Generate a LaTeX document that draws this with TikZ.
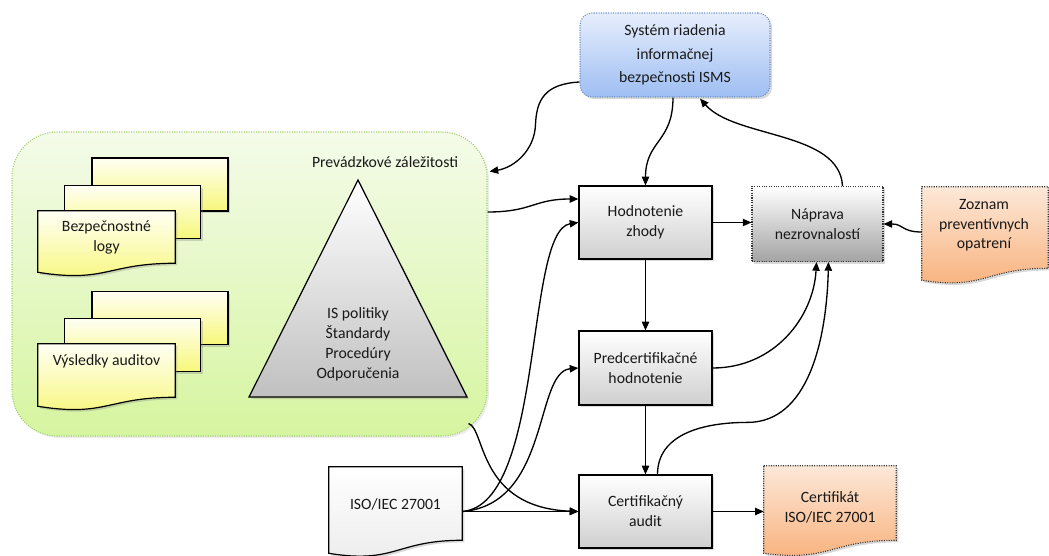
\documentclass[tikz,border=0pt]{standalone}
\usepackage{fontspec}
\setmainfont{Carlito}
\usetikzlibrary{arrows.meta,calc,shadows}

\definecolor{greentop}{HTML}{F4FBE9}
\definecolor{greenbot}{HTML}{D6F5A0}
\definecolor{greenline}{HTML}{9FCF6F}
\definecolor{bluetop}{HTML}{E6EEFC}
\definecolor{bluebot}{HTML}{9EBEF3}
\definecolor{blueline}{HTML}{6F8FC4}
\definecolor{boxgrey}{HTML}{CFCFCF}
\definecolor{fixgrey}{HTML}{A3A3A3}
\definecolor{yellowtop}{HTML}{FFFFF5}
\definecolor{yellowbot}{HTML}{F7F77A}
\definecolor{orangetop}{HTML}{FDE8D8}
\definecolor{orangebot}{HTML}{F8B07A}
\definecolor{pyragrey}{HTML}{C0C0C0}
\definecolor{isogrey}{HTML}{ECECEC}

% wavy-bottom document outline around an (invisible) node
% #1 style, #2 node, #3 dip of the wave, #4 drop of the left end
\newcommand\wavedoc[4][]{%
  \path[#1] (#2.north west) -- (#2.north east) -- (#2.south east)
    .. controls (#2.south) and ($(#2.south)+(0,#3)$) ..
    ($(#2.south west)+(0,#4)$) -- cycle;}

\tikzset{
  every node/.style={font=\fontsize{11.8}{15}\selectfont, align=center, text=black!90},
  softshadow/.style={drop shadow={opacity=0.3, shadow xshift=1.6pt, shadow yshift=-1.6pt}},
  proc/.style={draw=black, line width=0.9pt, top color=white, bottom color=boxgrey,
    minimum width=99.75pt, minimum height=54.75pt, softshadow},
  fixbox/.style={draw=black!80, densely dotted, line width=0.8pt, top color=white,
    bottom color=fixgrey, minimum width=98.25pt, minimum height=56.25pt, softshadow},
  ismsbox/.style={draw=blueline, densely dotted, line width=0.8pt, rounded corners=9pt,
    top color=bluetop, bottom color=bluebot, minimum width=142.5pt, minimum height=63pt,
    softshadow, font=\fontsize{11.8}{17.6}\selectfont},
  group/.style={draw=greenline, densely dotted, line width=0.8pt, rounded corners=34pt,
    top color=greentop, bottom color=greenbot, minimum width=356.25pt, minimum height=228pt,
    drop shadow={opacity=0.15, shadow xshift=1.5pt, shadow yshift=-1.5pt}},
  sheet/.style={draw=black, line width=0.9pt, top color=yellowtop, bottom color=yellowbot,
    minimum width=102pt, minimum height=39.75pt, softshadow},
  docbox/.style={inner sep=0pt, minimum width=102.75pt, minimum height=39pt},
  yellowdoc/.style={draw=black, line width=0.9pt, top color=yellowtop, bottom color=yellowbot, softshadow},
  orangedoc/.style={draw=black!80, densely dotted, line width=0.8pt, top color=orangetop, bottom color=orangebot, softshadow},
  isodoc/.style={draw=black, line width=0.9pt, top color=white, bottom color=isogrey, softshadow},
  pyramid/.style={draw=black, line width=0.9pt, top color=white, bottom color=pyragrey, softshadow},
  conn/.style={draw=black, line width=1pt, -{Triangle[length=6.5pt,width=5.5pt]}}
}

\begin{document}
\begin{tikzpicture}[x=0.75pt,y=-0.75pt]
\useasboundingbox (0,0) rectangle (1049,556);

% operational matters container
\node[group] (ops) at (249.5,284) {};
\node (ops-title) at (385,162) {Prevádzkové záležitosti};

% policy pyramid
\coordinate (tri-top) at (358,180);
\coordinate (tri-l) at (249,397);
\coordinate (tri-r) at (467,397);
\path[pyramid] (tri-top) -- (tri-r) -- (tri-l) -- cycle;
\node (tri-t) at (358,344) {IS politiky\\Štandardy\\Procedúry\\Odporučenia};

% security logs stack
\node[sheet] (log-b) at (160,184.5) {};
\node[sheet] (log-m) at (132.5,212) {};
\node[docbox] (log) at (106.5,237) {};
\wavedoc[yellowdoc]{log}{20}{9}
\node (log-t) at (log) {Bezpečnostné\\logy};

% audit results stack
\node[sheet] (aud-b) at (160,318) {};
\node[sheet] (aud-m) at (132.5,345) {};
\node[docbox, minimum height=39.75pt] (aud) at (106.5,370.5) {};
\wavedoc[yellowdoc]{aud}{20}{9}
\node (aud-t) at (106.5,361) {Výsledky auditov};

% ISMS
\node[ismsbox] (isms) at (675,55) {Systém riadenia\\informačnej\\bezpečnosti ISMS};

% process steps
\node[proc] (hod) at (645.5,222.5) {Hodnotenie\\zhody};
\node[proc, minimum height=55.5pt] (pred) at (645.5,368) {Predcertifikačné\\hodnotenie};
\node[proc] (cert) at (645.5,511.5) {Certifikačný\\audit};
\node[fixbox] (nap) at (817.5,224) {Náprava\\nezrovnalostí};

% documents
\node[docbox, minimum width=94.5pt, minimum height=60.75pt] (zoz) at (985,227.5) {};
\wavedoc[orangedoc]{zoz}{22}{12}
\node[font=\fontsize{11.8}{14.6}\selectfont] (zoz-t) at (984,225.5) {Zoznam\\preventívnych\\opatrení};

\node[docbox, minimum width=99pt, minimum height=55.5pt] (certif) at (830,503) {};
\wavedoc[orangedoc]{certif}{22}{13}
\node (certif-t) at (830,507) {Certifikát\\ISO/IEC 27001};

\node[docbox, minimum width=99.75pt, minimum height=54.75pt] (iso) at (395.5,503.5) {};
\wavedoc[isodoc]{iso}{24}{13}
\node (iso-t) at (395.5,504) {ISO/IEC 27001};

% connectors
\draw[conn] ($(isms.west)+(0,27)$) .. controls +(-35,2) and +(1,-25) .. ++(-44,43)
  .. controls +(-1,25) and +(25,-4) .. ($(ops.north east)+(2,40)$);
\draw[conn] ($(isms.south)+(-2,0)$) .. controls +(0,45) and +(0,-45) .. (hod.north);
\draw[conn] ($(nap.north)+(25,0)$) .. controls +(-3,-55) and +(35,40) .. ($(isms.south)+(25,1)$);
\draw[conn] ($(ops.east)+(0,-72)$) .. controls +(45,0) and +(-45,0) .. ($(hod.west)+(0,-23.5)$);
\draw[conn] (cert.west -| iso.east) .. controls +(83,-7) and +(-54,8) .. (hod.west);
\draw[conn] (cert.west -| iso.east) .. controls +(88,-7) and +(-44,4) .. (pred.west);
\draw[conn] (cert.west -| iso.east) -- (cert.west);
\draw[conn] ($(ops.south east)+(-19,-13)$) .. controls +(17,5) and +(-101,-4) .. (cert.west);
\draw[conn] (hod.east) -- (hod.east -| nap.west);
\draw[conn] (hod.south) -- (pred.north);
\draw[conn] (pred.south) -- (cert.north);
\draw[conn] (pred.east) .. controls +(62,0) and +(-3,55) .. ($(nap.south)+(-1,0)$);
\draw[conn] ($(cert.north)+(12,0)$) .. controls +(0,-40) and +(-45,0) .. ++(90,-52)
  .. controls +(60,0) and +(-2,80) .. ($(nap.south)+(11,0)$);
\draw[conn] ($(zoz.west)+(0,4.5)$) .. controls +(-20,0) and +(20,0) .. (nap.east);
\draw[conn] (cert.east) -- (cert.east -| certif.west);
\end{tikzpicture}
\end{document}
